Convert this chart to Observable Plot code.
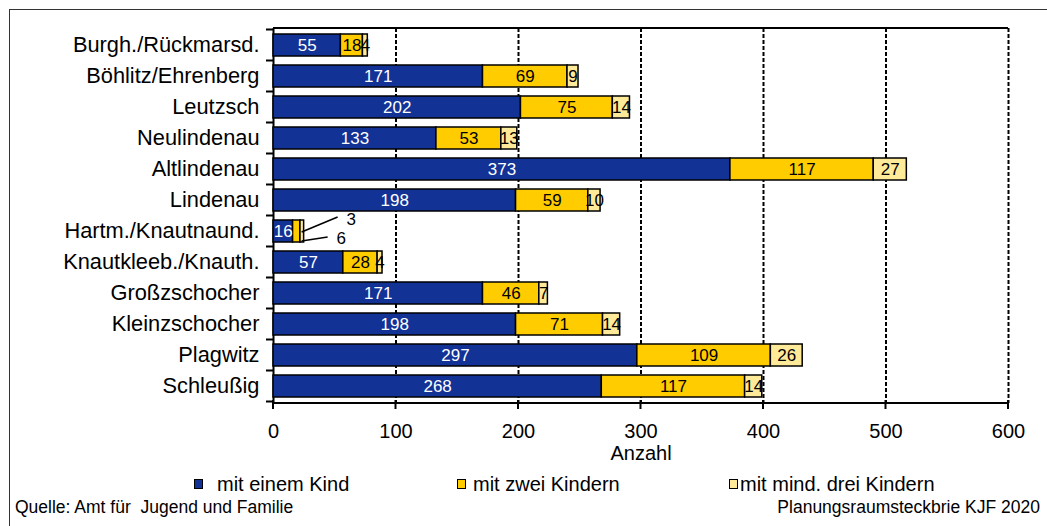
<!DOCTYPE html>
<html>
<head>
<meta charset="utf-8">
<script src="https://cdn.jsdelivr.net/npm/d3@7"></script>
<script src="https://cdn.jsdelivr.net/npm/@observablehq/plot@0.6"></script>
<style>
  html, body { margin: 0; padding: 0; background: #fff; overflow: hidden; }
  body { font-family: "Liberation Sans", Arial, sans-serif; color: #000; }
  #wrap { position: relative; width: 1047px; height: 526px; }
  #chart { position: absolute; left: 0; top: 0; }
  #border { position: absolute; left: 9px; top: 9px; width: 1100px; height: 600px;
            border-left: 1.5px solid #333; border-top: 1.5px solid #333; pointer-events: none; }
  .leg { position: absolute; top: 473px; height: 22px; display: flex; align-items: center; font-size: 20px; white-space: nowrap; }
  .leg .sw { width: 7px; height: 8px; border: 1.5px solid #000; display: inline-block; }
  .foot { position: absolute; top: 497px; font-size: 17.5px; white-space: pre; }
</style>
</head>
<body>
<div id="wrap">
  <div id="chart"></div>
  <div id="legend"></div>
  <div class="foot" id="footL" style="left:15px"></div>
  <div class="foot" id="footR" style="right:7px"></div>
  <div id="border"></div>
</div>
<script>
// ---- data ----
const categories = [
  "Burgh./Rückmarsd.", "Böhlitz/Ehrenberg", "Leutzsch", "Neulindenau", "Altlindenau",
  "Lindenau", "Hartm./Knautnaund.", "Knautkleeb./Knauth.", "Großzschocher",
  "Kleinzschocher", "Plagwitz", "Schleußig"
];
const oneChild    = [55, 171, 202, 133, 373, 198, 16, 57, 171, 198, 297, 268];
const twoChildren = [18, 69, 75, 53, 117, 59, 6, 28, 46, 71, 109, 117];
const threePlus   = [4, 9, 14, 13, 27, 10, 3, 4, 7, 14, 26, 14];
const seriesNames = ["mit einem Kind", "mit zwei Kindern", "mit mind. drei Kindern"];
const seriesColors = ["#123296", "#FFCC00", "#FFEA99"];
const xTicks = [0, 100, 200, 300, 400, 500, 600];
const xLabel = "Anzahl";
const calloutCategory = "Hartm./Knautnaund.";
const footerLeft = "Quelle: Amt für  Jugend und Familie";
const footerRight = "Planungsraumsteckbrie KJF 2020";

// ---- build stacked segments ----
const seriesValues = [oneChild, twoChildren, threePlus];
const segments = [];
categories.forEach((c, i) => {
  let acc = 0;
  seriesValues.forEach((vals, s) => {
    const v = vals[i];
    segments.push({category: c, series: seriesNames[s], value: v, x1: acc, x2: acc + v, mid: acc + v / 2, s});
    acc += v;
  });
});
const inside = segments.filter(d => !(d.category === calloutCategory && d.s > 0));
const callouts = segments.filter(d => d.category === calloutCategory && d.s > 0);
const calloutTwo = callouts.filter(d => d.s === 1);
const calloutThree = callouts.filter(d => d.s === 2);

const FONT = '"Liberation Sans", Arial, sans-serif';

const chart = Plot.plot({
  width: 1047,
  height: 470,
  marginTop: 28,
  marginBottom: 67,
  marginLeft: 273,
  marginRight: 39,
  x: {domain: [0, 600]},
  y: {domain: categories, paddingInner: 0.3, paddingOuter: 0.15, align: 0.5},
  color: {domain: seriesNames, range: seriesColors},
  style: {fontFamily: FONT, fontSize: "20px", background: "transparent", color: "black", overflow: "visible"},
  marks: [
    Plot.ruleX(xTicks.filter(t => t > 0), {stroke: "black", strokeWidth: 2, strokeDasharray: "4,2"}),
    Plot.ruleX([0], {stroke: "black", strokeWidth: 2}),
    Plot.barX(segments, {y: "category", x1: "x1", x2: "x2", fill: "series", stroke: "black", strokeWidth: 1.5}),
    Plot.text(inside.filter(d => d.s === 0), {y: "category", x: "mid", text: "value", fill: "white", fontSize: 17}),
    Plot.text(inside.filter(d => d.s > 0), {y: "category", x: "mid", text: "value", fill: "black", fontSize: 17}),
    Plot.text(calloutThree, {y: "category", x: "x2", text: "value", fill: "black", fontSize: 17, dx: 47, dy: -12}),
    Plot.text(calloutTwo, {y: "category", x: d => d.x2 + threePlus[categories.indexOf(d.category)], text: "value", fill: "black", fontSize: 17, dx: 37, dy: 7}),
    Plot.axisY({tickSize: 0, tickPadding: 14, fontSize: 21.8, label: null}),
    Plot.axisX({ticks: xTicks, tickSize: 0, tickPadding: 20, fontSize: 20, label: null}),
    Plot.text([xLabel], {text: d => d, frameAnchor: "bottom", dy: 56, fontSize: 20})
  ]
});
document.getElementById("chart").appendChild(chart);

// ---- axis lines, ticks and callout leaders drawn from the Plot scales ----
const xs = chart.scale("x"), ys = chart.scale("y");
const svg = d3.select(chart);
const g = svg.append("g").attr("stroke", "black").attr("fill", "none");
const xa = xs.apply(0), xb = xs.apply(600);
const yTop = ys.range[0], yBot = ys.range[1];
g.append("line").attr("x1", xa).attr("x2", xb).attr("y1", yTop).attr("y2", yTop).attr("stroke-width", 2);
g.append("line").attr("x1", xa - 1).attr("x2", xb).attr("y1", yBot).attr("y2", yBot).attr("stroke-width", 2);
xTicks.forEach(t => {
  const x = xs.apply(t);
  g.append("line").attr("x1", x).attr("x2", x).attr("y1", yBot - 3).attr("y2", yBot + 6).attr("stroke-width", 2);
});
const half = (ys.step - ys.bandwidth) / 2;
const bounds = categories.map(c => ys.apply(c) - half);
bounds.push(ys.apply(categories[categories.length - 1]) + ys.bandwidth + half);
bounds.forEach(y => {
  g.append("line").attr("x1", xa - 7).attr("x2", xa).attr("y1", y).attr("y2", y).attr("stroke-width", 2);
});
// leader lines for the Hartm. callouts
const ci = categories.indexOf(calloutCategory);
const total = oneChild[ci] + twoChildren[ci] + threePlus[ci];
const xe = xs.apply(total) - 2;
const yc = ys.apply(calloutCategory) + ys.bandwidth / 2;
g.append("line").attr("x1", xe).attr("y1", yc + 1).attr("x2", xe + 36).attr("y2", yc - 14).attr("stroke-width", 1.5);
g.append("line").attr("x1", xe).attr("y1", yc + 10).attr("x2", xe + 26).attr("y2", yc + 6).attr("stroke-width", 1.5);

// ---- legend ----
const legendLeft = [194, 457, 729];
const legendGap = [14, 7, 2];
const legend = document.getElementById("legend");
seriesNames.forEach((name, i) => {
  const item = document.createElement("div");
  item.className = "leg";
  item.style.left = legendLeft[i] + "px";
  const sw = document.createElement("span");
  sw.className = "sw";
  sw.style.background = seriesColors[i];
  sw.style.marginRight = legendGap[i] + "px";
  item.appendChild(sw);
  item.appendChild(document.createTextNode(name));
  legend.appendChild(item);
});
document.getElementById("footL").textContent = footerLeft;
document.getElementById("footR").textContent = footerRight;
</script>
</body>
</html>
